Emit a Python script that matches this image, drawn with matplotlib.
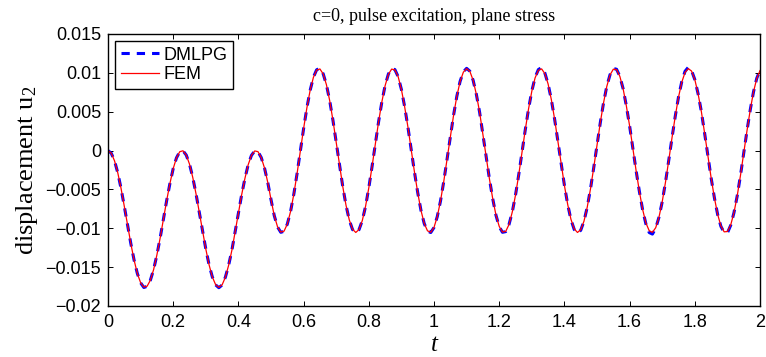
import numpy as np
import matplotlib
matplotlib.use("Agg")
import matplotlib.pyplot as plt

# time samples, dt = 0.01 over [0, 2]
t = np.linspace(0.0, 2.0, 201)

# vertical displacement u2, FEM reference solution
u_fem = [
    0.0, -0.00034, -0.00132, -0.00287, -0.00487, -0.00718, -0.00960, -0.01197, -0.01409, -0.01582,
    -0.01700, -0.01757, -0.01745, -0.01668, -0.01530, -0.01342, -0.01124, -0.00883, -0.00642, -0.00422,
    -0.00232, -0.00094, -0.00015, -0.00003, -0.00058, -0.00175, -0.00346, -0.00558, -0.00794, -0.01037,
    -0.01267, -0.01470, -0.01626, -0.01725, -0.01760, -0.01728, -0.01630, -0.01476, -0.01282, -0.01047,
    -0.00806, -0.00568, -0.00358, -0.00182, -0.00062, -0.00005, -0.00014, -0.00089, -0.00224, -0.00409,
    -0.00631, -0.00838, -0.00981, -0.01049, -0.01037, -0.00946, -0.00783, -0.00561, -0.00294, -0.00006,
    0.00283, 0.00549, 0.00774, 0.00941, 0.01035, 0.01050, 0.00986, 0.00847, 0.00642, 0.00389,
    0.00106, -0.00185, -0.00461, -0.00703, -0.00891, -0.01012, -0.01054, -0.01016, -0.00901, -0.00718,
    -0.00479, -0.00204, 0.00086, 0.00371, 0.00626, 0.00835, 0.00980, 0.01048, 0.01039, 0.00950,
    0.00786, 0.00562, 0.00302, 0.00013, -0.00276, -0.00541, -0.00770, -0.00938, -0.01033, -0.01051,
    -0.00988, -0.00850, -0.00647, -0.00395, -0.00113, 0.00178, 0.00455, 0.00699, 0.00888, 0.01009,
    0.01054, 0.01019, 0.00904, 0.00721, 0.00490, 0.00209, -0.00079, -0.00365, -0.00618, -0.00830,
    -0.00976, -0.01048, -0.01040, -0.00952, -0.00792, -0.00572, -0.00308, -0.00020, 0.00269, 0.00537,
    0.00764, 0.00935, 0.01032, 0.01051, 0.00990, 0.00856, 0.00653, 0.00402, 0.00120, -0.00171,
    -0.00448, -0.00693, -0.00884, -0.01007, -0.01054, -0.01020, -0.00909, -0.00728, -0.00492, -0.00218,
    0.00072, 0.00357, 0.00614, 0.00826, 0.00974, 0.01047, 0.01041, 0.00955, 0.00797, 0.00574,
    0.00316, 0.00028, -0.00262, -0.00528, -0.00760, -0.00932, -0.01031, -0.01052, -0.00993, -0.00858,
    -0.00659, -0.00408, -0.00127, 0.00164, 0.00442, 0.00688, 0.00880, 0.01005, 0.01054, 0.01023,
    0.00913, 0.00731, 0.00503, 0.00224, -0.00065, -0.00351, -0.00607, -0.00821, -0.00970, -0.01046,
    -0.01042, -0.00958, -0.00801, -0.00584, -0.00321, -0.00035, 0.00255, 0.00524, 0.00755, 0.00928,
    0.01029,
]

# vertical displacement u2, DMLPG solution
u_dmlpg = [
    0.0, -0.00034, -0.00132, -0.00287, -0.00487, -0.00718, -0.00960, -0.01197, -0.01409, -0.01582,
    -0.01702, -0.01762, -0.01747, -0.01668, -0.01530, -0.01342, -0.01124, -0.00883, -0.00642, -0.00422,
    -0.00232, -0.00094, -0.00015, -0.00003, -0.00058, -0.00175, -0.00346, -0.00558, -0.00794, -0.01037,
    -0.01267, -0.01470, -0.01626, -0.01728, -0.01765, -0.01730, -0.01630, -0.01476, -0.01282, -0.01047,
    -0.00806, -0.00568, -0.00358, -0.00182, -0.00062, -0.00005, -0.00014, -0.00089, -0.00224, -0.00409,
    -0.00631, -0.00838, -0.00983, -0.01052, -0.01039, -0.00946, -0.00783, -0.00561, -0.00294, -0.00006,
    0.00283, 0.00549, 0.00774, 0.00943, 0.01040, 0.01058, 0.00988, 0.00847, 0.00642, 0.00389,
    0.00106, -0.00185, -0.00461, -0.00703, -0.00893, -0.01016, -0.01058, -0.01018, -0.00901, -0.00718,
    -0.00479, -0.00204, 0.00086, 0.00371, 0.00626, 0.00837, 0.00984, 0.01055, 0.01042, 0.00950,
    0.00786, 0.00562, 0.00302, 0.00013, -0.00276, -0.00541, -0.00770, -0.00940, -0.01036, -0.01055,
    -0.00990, -0.00850, -0.00647, -0.00395, -0.00113, 0.00178, 0.00455, 0.00699, 0.00890, 0.01013,
    0.01058, 0.01021, 0.00904, 0.00721, 0.00490, 0.00209, -0.00079, -0.00365, -0.00618, -0.00832,
    -0.00979, -0.01052, -0.01043, -0.00952, -0.00792, -0.00572, -0.00308, -0.00020, 0.00269, 0.00537,
    0.00766, 0.00940, 0.01042, 0.01068, 0.00998, 0.00856, 0.00653, 0.00402, 0.00120, -0.00171,
    -0.00448, -0.00693, -0.00888, -0.01015, -0.01065, -0.01026, -0.00909, -0.00728, -0.00492, -0.00218,
    0.00072, 0.00357, 0.00614, 0.00828, 0.00978, 0.01057, 0.01046, 0.00955, 0.00797, 0.00574,
    0.00316, 0.00028, -0.00262, -0.00528, -0.00765, -0.00945, -0.01055, -0.01075, -0.01000, -0.00858,
    -0.00659, -0.00408, -0.00127, 0.00164, 0.00442, 0.00690, 0.00888, 0.01020, 0.01072, 0.01030,
    0.00913, 0.00731, 0.00503, 0.00224, -0.00065, -0.00351, -0.00607, -0.00823, -0.00976, -0.01056,
    -0.01060, -0.00962, -0.00801, -0.00584, -0.00321, -0.00035, 0.00255, 0.00524, 0.00755, 0.00930,
    0.01035,
]

xticks = [0, 0.2, 0.4, 0.6, 0.8, 1.0, 1.2, 1.4, 1.6, 1.8, 2.0]
xtick_labels = ["0", "0.2", "0.4", "0.6", "0.8", "1", "1.2", "1.4", "1.6", "1.8", "2"]
yticks = [-0.02, -0.015, -0.01, -0.005, 0, 0.005, 0.01, 0.015]
ytick_labels = ["\u22120.02", "\u22120.015", "\u22120.01", "\u22120.005", "0", "0.005", "0.01", "0.015"]

sans = "Liberation Sans"
serif = "Liberation Serif"

# subscript in the y label should come out in the serif face too
plt.rcParams["mathtext.fontset"] = "custom"
plt.rcParams["mathtext.rm"] = serif
plt.rcParams["mathtext.it"] = serif + ":italic"

fig = plt.figure(figsize=(7.66, 3.57), dpi=100)
ax = fig.add_axes([0.1410, 0.1429, 0.8512, 0.7619])

ax.plot(t, u_dmlpg, color="blue", lw=2.2, linestyle=(0, (2.7, 2.3)), label="DMLPG")
ax.plot(t, u_fem, color="red", lw=0.9, label="FEM")

ax.set_xlim(0, 2)
ax.set_ylim(-0.02, 0.015)
ax.set_xticks(xticks)
ax.set_xticklabels(xtick_labels, fontname=sans, fontsize=13)
ax.set_yticks(yticks)
ax.set_yticklabels(ytick_labels, fontname=sans, fontsize=13)
ax.tick_params(direction="in", length=3.6, width=0.7, top=True, right=True)
ax.tick_params(axis="x", pad=6)
ax.tick_params(axis="y", pad=5)
for sp in ax.spines.values():
    sp.set_linewidth(1.0)

ax.set_title("c=0, pulse excitation, plane stress", fontname=serif, fontsize=13, pad=9)
ax.set_ylabel("displacement u$_\\mathrm{2}$", fontname=serif, fontsize=19, labelpad=4)
ax.set_xlabel("t", fontname=serif, fontstyle="italic", fontsize=18, labelpad=2)

leg = ax.legend(loc="upper left", prop={"family": sans, "size": 13},
                handlelength=2.1, handletextpad=0.3, labelspacing=0.15,
                borderpad=0.3, borderaxespad=0.4, fancybox=False, framealpha=1)
leg.get_frame().set_edgecolor("black")
leg.get_frame().set_linewidth(1.0)

fig.savefig("out.png", dpi=100)
